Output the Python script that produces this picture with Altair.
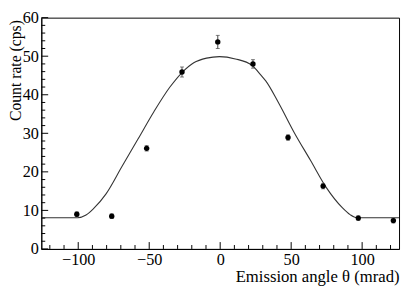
import altair as alt
import pandas as pd

# measured data points
pt_x = [-101.0, -76.4, -51.8, -26.9, -1.7, 23.1, 47.8, 72.5, 97.3, 122.0]
pt_y = [9.0, 8.5, 26.1, 45.9, 53.7, 48.0, 28.9, 16.3, 8.0, 7.35]
pt_err = [0.6, 0.6, 0.7, 1.3, 1.7, 1.1, 0.7, 0.7, 0.6, 0.6]

# fitted curve
cv_x = [-126, -100.5, -94.5, -89.4, -80.4, -69.2, -57.9, -46.7, -35.4, -26.5,
        -18.6, -9.6, -0.5, 10.7, 22.5, 28.7, 32.1, 41.0, 52.3, 63.6, 74.8,
        86.0, 91.5, 96.2, 126]
cv_y = [8.1, 8.1, 8.8, 10.4, 14.3, 21.4, 28.5, 35.6, 42.0, 45.9,
        48.3, 49.5, 49.9, 49.3, 47.6, 45.1, 43.6, 38.0, 30.1, 23.0, 15.9,
        10.7, 8.9, 8.1, 8.1]

# axis ticks / labels
x_labels = [-100, -50, 0, 50, 100]
x_minor = [-120, -110, -90, -80, -70, -60, -40, -30, -20, -10,
           10, 20, 30, 40, 60, 70, 80, 90, 110, 120]
y_labels = [0, 10, 20, 30, 40, 50, 60]
y_minor = [v for v in range(0, 61, 2) if v % 10 != 0]

W, H = 365, 236
FONT = "Liberation Serif"

pts = pd.DataFrame({"x": pt_x, "y": pt_y,
                    "lo": [a - b for a, b in zip(pt_y, pt_err)],
                    "hi": [a + b for a, b in zip(pt_y, pt_err)]})
curve = pd.DataFrame({"x": cv_x, "y": cv_y})
xmaj = pd.DataFrame({"x": x_labels})
xmin = pd.DataFrame({"x": x_minor})
ymaj = pd.DataFrame({"y": y_labels})
ymin = pd.DataFrame({"y": y_minor})

xscale = alt.Scale(domain=[-126, 126], nice=False, zero=False)
yscale = alt.Scale(domain=[0, 60], nice=False, zero=True)

xaxis = alt.Axis(values=x_labels, ticks=False, tickSize=0, grid=False,
                 labelPadding=3, labelFont=FONT, labelFontSize=16.5,
                 labelColor="black", labelFlush=False,
                 domainColor="black", domainWidth=1,
                 title="Emission angle θ (mrad)", titleFont=FONT,
                 titleFontSize=17, titleFontWeight="normal", titleColor="black",
                 titleX=W, titleY=33, titleAlign="right",
                 titleBaseline="alphabetic")
yaxis = alt.Axis(values=y_labels, ticks=False, tickSize=0, grid=False,
                 labelPadding=3, labelFont=FONT, labelFontSize=16.5,
                 labelColor="black", labelFlush=False,
                 domainColor="black", domainWidth=1,
                 title="Count rate (cps)", titleFont=FONT,
                 titleFontSize=16, titleFontWeight="normal", titleColor="black",
                 titleX=-26, titleY=2, titleAngle=270, titleAlign="right",
                 titleBaseline="middle")

X = alt.X("x:Q", scale=xscale, axis=xaxis)
Y = alt.Y("y:Q", scale=yscale, axis=yaxis)

line = alt.Chart(curve).mark_line(color="#333333", strokeWidth=1.1,
                                  interpolate="monotone").encode(x=X, y=Y)

err = alt.Chart(pts).mark_rule(color="#444444", strokeWidth=1).encode(
    x=X, y=alt.Y("lo:Q", scale=yscale, axis=yaxis), y2="hi:Q")
cap_lo = alt.Chart(pts).mark_tick(color="#444444", orient="horizontal",
                                  size=4, thickness=1).encode(
    x=X, y=alt.Y("lo:Q", scale=yscale, axis=yaxis))
cap_hi = alt.Chart(pts).mark_tick(color="#444444", orient="horizontal",
                                  size=4, thickness=1).encode(
    x=X, y=alt.Y("hi:Q", scale=yscale, axis=yaxis))
dots = alt.Chart(pts).mark_circle(color="black", size=30, opacity=1).encode(
    x=X, y=Y)

xt_maj = alt.Chart(xmaj).mark_rule(color="black", strokeWidth=1).encode(
    x=X, y=alt.value(H), y2=alt.value(H - 7))
xt_min = alt.Chart(xmin).mark_rule(color="black", strokeWidth=1).encode(
    x=X, y=alt.value(H), y2=alt.value(H - 4))
yt_maj = alt.Chart(ymaj).mark_rule(color="black", strokeWidth=1).encode(
    y=Y, x=alt.value(0), x2=alt.value(7))
yt_min = alt.Chart(ymin).mark_rule(color="black", strokeWidth=1).encode(
    y=Y, x=alt.value(0), x2=alt.value(4))

chart = alt.layer(
    line, xt_maj, xt_min, yt_maj, yt_min, err, cap_lo, cap_hi, dots
).properties(
    width=W, height=H,
    padding={"left": 34, "top": 7, "right": 2, "bottom": 37},
    autosize=alt.AutoSizeParams(type="none"),
    background="white",
).configure_view(
    stroke="black", strokeWidth=1
).configure_axis(
    labelFont=FONT, titleFont=FONT
)

chart.save("out.html", embed_options={"renderer": "svg", "actions": False})
